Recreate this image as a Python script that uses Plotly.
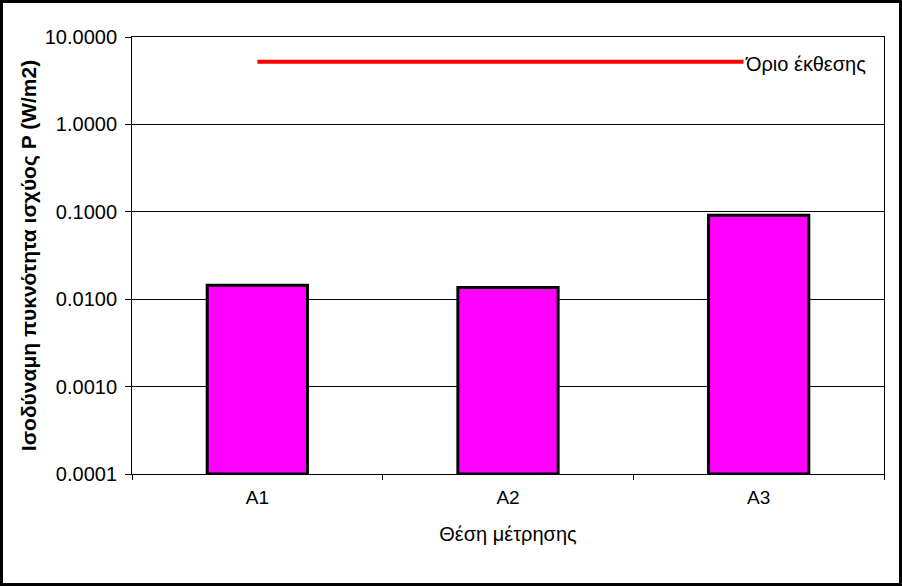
import math
import plotly.graph_objects as go

# Measurement positions and power density (W/m2)
positions = ['A1', 'A2', 'A3']
power_density = [0.0143, 0.0135, 0.091]
exposure_limit = [5.2, 5.2, 5.2]
limit_label = 'Όριο έκθεσης'
y_ticks = [0.0001, 0.001, 0.01, 0.1, 1, 10]
y_tick_text = ['0.0001', '0.0010', '0.0100', '0.1000', '1.0000', '10.0000']

W, H = 902, 586
margin = dict(l=132, r=18, t=37, b=112)
font = 'Liberation Sans, Arial, sans-serif'

fig = go.Figure()

# Bars with heavy black outline
fig.add_trace(go.Bar(x=positions,
                     y=power_density,
                     width=0.4,
                     base=0.0001,
                     marker=dict(color='#FF00FF',
                                 line=dict(color='black', width=3)),
                     showlegend=False))

# Exposure limit line
fig.add_trace(go.Scatter(x=positions,
                         y=exposure_limit,
                         mode='lines',
                         line=dict(color='#FF0000', width=4),
                         showlegend=False))

# Label at the end of the limit line (white box covers line end)
# annotation y on a log axis is given in log10 units
fig.add_annotation(x=positions[-1], y=math.log10(exposure_limit[-1]),
                   text=limit_label, showarrow=False,
                   xanchor='left', xshift=-16, yshift=-2,
                   bgcolor='white', borderpad=1,
                   font=dict(family=font, size=20, color='black'))

# Outer black frame around the whole picture
pw = W - margin['l'] - margin['r']
ph = H - margin['t'] - margin['b']
fig.add_shape(type='rect', xref='paper', yref='paper',
              x0=-(margin['l'] - 1.5) / pw, x1=1 + (margin['r'] - 1.5) / pw,
              y0=-(margin['b'] - 1.5) / ph, y1=1 + (margin['t'] - 1.5) / ph,
              line=dict(color='black', width=3))

fig.update_layout(
    width=W, height=H,
    margin=margin,
    paper_bgcolor='white',
    plot_bgcolor='white',
    font=dict(family=font, size=18, color='black'),
    xaxis=dict(
        title=dict(text='Θέση μέτρησης', font=dict(size=20), standoff=20),
        showline=True, linecolor='black', linewidth=1, mirror=True,
        ticks='outside', ticklen=5, tickcolor='black',
        tickson='boundaries',
        ticklabelstandoff=6,
        tickfont=dict(size=19),
        showgrid=False,
    ),
    yaxis=dict(
        type='log',
        range=[-4, 1],
        tickvals=y_ticks,
        ticktext=y_tick_text,
        title=dict(text='<b>Ισοδύναμη πυκνότητα ισχύος P (W/m2)</b>',
                   font=dict(size=21), standoff=2),
        showline=True, linecolor='black', linewidth=1, mirror=True,
        ticks='outside', ticklen=6, tickcolor='black',
        showgrid=True, gridcolor='black', gridwidth=1,
        ticklabelstandoff=4,
        tickfont=dict(size=20),
        zeroline=False,
    ),
)

fig.write_html('out.html', config={'displayModeBar': False},
               post_script="document.body.style.margin='0';")
